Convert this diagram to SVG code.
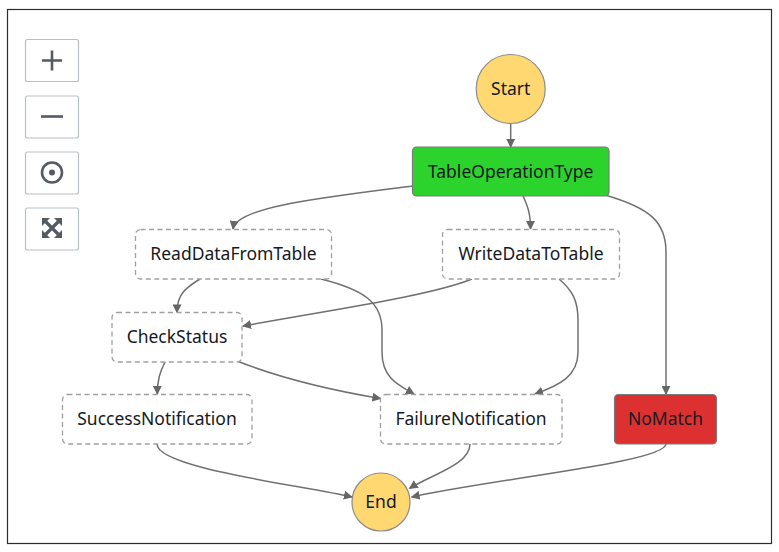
<svg xmlns="http://www.w3.org/2000/svg" width="779" height="552" viewBox="0 0 779 552">
  <defs>
    <marker id="arr" viewBox="0 0 10 10" refX="9" refY="5" markerWidth="9" markerHeight="9" markerUnits="userSpaceOnUse" orient="auto">
      <path d="M0 0 L10 5 L0 10 z" fill="#666"/>
    </marker>
  </defs>
  <style>
    .lbl { font-family: "Noto Sans", "Open Sans", sans-serif; font-size: 17.5px; fill: #16191f; text-anchor: middle; }
    .task { fill: #ffffff; stroke: #a0a0a0; stroke-width: 1.3; stroke-dasharray: 5 3.5; }
    .term { fill: #ffd872; stroke: #8c8c8c; stroke-width: 1.2; }
    .edge { fill: none; stroke: #707070; stroke-width: 1.5; marker-end: url(#arr); }
    .btn { fill: #ffffff; stroke: #b8c0c4; stroke-width: 1.2; }
    .ico { stroke: #545b64; fill: none; stroke-width: 2.6; }
  </style>
  <rect x="0" y="0" width="779" height="552" fill="#ffffff"/>
  <rect x="7.5" y="9.5" width="764" height="534" fill="#ffffff" stroke="#232f3e" stroke-width="1.2"/>

  <g id="controls">
    <g id="zoom-in">
      <rect class="btn" x="25.5" y="39.5" width="53" height="42" rx="2"/>
      <path class="ico" d="M42 60.5 H62 M52 50.5 V70.5"/>
    </g>
    <g id="zoom-out">
      <rect class="btn" x="25.5" y="96" width="53" height="42" rx="2"/>
      <path class="ico" d="M41 116.5 H63"/>
    </g>
    <g id="center">
      <rect class="btn" x="25.5" y="152" width="53" height="42" rx="2"/>
      <circle class="ico" cx="52" cy="172.5" r="10"/>
      <circle cx="52" cy="172.5" r="3" fill="#545b64"/>
    </g>
    <g id="fit">
      <rect class="btn" x="25.5" y="208" width="53" height="42" rx="2"/>
      <path d="M45.5 221.5 L58.5 234.5 M58.5 221.5 L45.5 234.5" stroke="#545b64" stroke-width="3.2"/>
      <path d="M42 218 H50 L42 226 z M62 218 V226 L54 218 z M42 238 V230 L50 238 z M62 238 H54 L62 230 z" fill="#545b64"/>
    </g>
  </g>

  <g id="connectors">
    <path class="edge" d="M510.7 123.5 L510.7 147"/>
    <path class="edge" d="M413 186 C 320 198, 236 207, 233 229"/>
    <path class="edge" d="M523 196 C 527 205, 530.5 212, 530.5 229"/>
    <path class="edge" d="M605 195 C 650 208, 666 222, 666 252 L 666 394"/>
    <path class="edge" d="M200 279 C 185 288, 177 295, 177 312.5"/>
    <path class="edge" d="M321 279 C 365 290, 382 303, 382 330 L 382 352 C 382 378, 398 385, 414 394"/>
    <path class="edge" d="M472 279 C 430 296, 330 310, 243 326"/>
    <path class="edge" d="M559 279 C 572 290, 578 300, 578 320 L 578 352 C 578 376, 560 385, 535 394"/>
    <path class="edge" d="M165 362 C 160 372, 157.3 380, 157.3 394"/>
    <path class="edge" d="M237 361 C 280 378, 330 390, 380.5 398.5"/>
    <path class="edge" d="M157 444 C 157 468, 300 485, 352 497"/>
    <path class="edge" d="M470 444 C 470 465, 430 475, 409.5 488.5"/>
    <path class="edge" d="M666 444 C 665 462, 500 478, 411.6 497"/>
  </g>

  <g id="Start">
    <circle class="term" cx="510.7" cy="89" r="34.5"/>
    <text class="lbl" x="510.7" y="95.2">Start</text>
  </g>
  <g id="TableOperationType">
    <rect x="412.5" y="147" width="196.5" height="49" rx="4" fill="#2dd32d" stroke="#7a7a7a" stroke-width="1.2"/>
    <text class="lbl" x="510.7" y="177.5">TableOperationType</text>
  </g>
  <g id="ReadDataFromTable">
    <rect class="task" x="135.5" y="229.5" width="196" height="49.5" rx="5"/>
    <text class="lbl" x="233.5" y="260.2">ReadDataFromTable</text>
  </g>
  <g id="WriteDataToTable">
    <rect class="task" x="442.5" y="229.5" width="177" height="49.5" rx="5"/>
    <text class="lbl" x="531" y="260.2">WriteDataToTable</text>
  </g>
  <g id="CheckStatus">
    <rect class="task" x="112" y="312.5" width="130" height="49.5" rx="5"/>
    <text class="lbl" x="177" y="343.2">CheckStatus</text>
  </g>
  <g id="SuccessNotification">
    <rect class="task" x="62.5" y="394.5" width="189.5" height="49.5" rx="5"/>
    <text class="lbl" x="157" y="425.2">SuccessNotification</text>
  </g>
  <g id="FailureNotification">
    <rect class="task" x="380.5" y="394.5" width="181.5" height="49.5" rx="5"/>
    <text class="lbl" x="471" y="425.2">FailureNotification</text>
  </g>
  <g id="NoMatch">
    <rect x="614.5" y="394.5" width="102" height="49.5" rx="4" fill="#dd3131" stroke="#7a7a7a" stroke-width="1.2"/>
    <text class="lbl" x="665.5" y="425.2">NoMatch</text>
  </g>
  <g id="End">
    <circle class="term" cx="381" cy="502" r="29"/>
    <text class="lbl" x="381" y="508.2">End</text>
  </g>
</svg>
